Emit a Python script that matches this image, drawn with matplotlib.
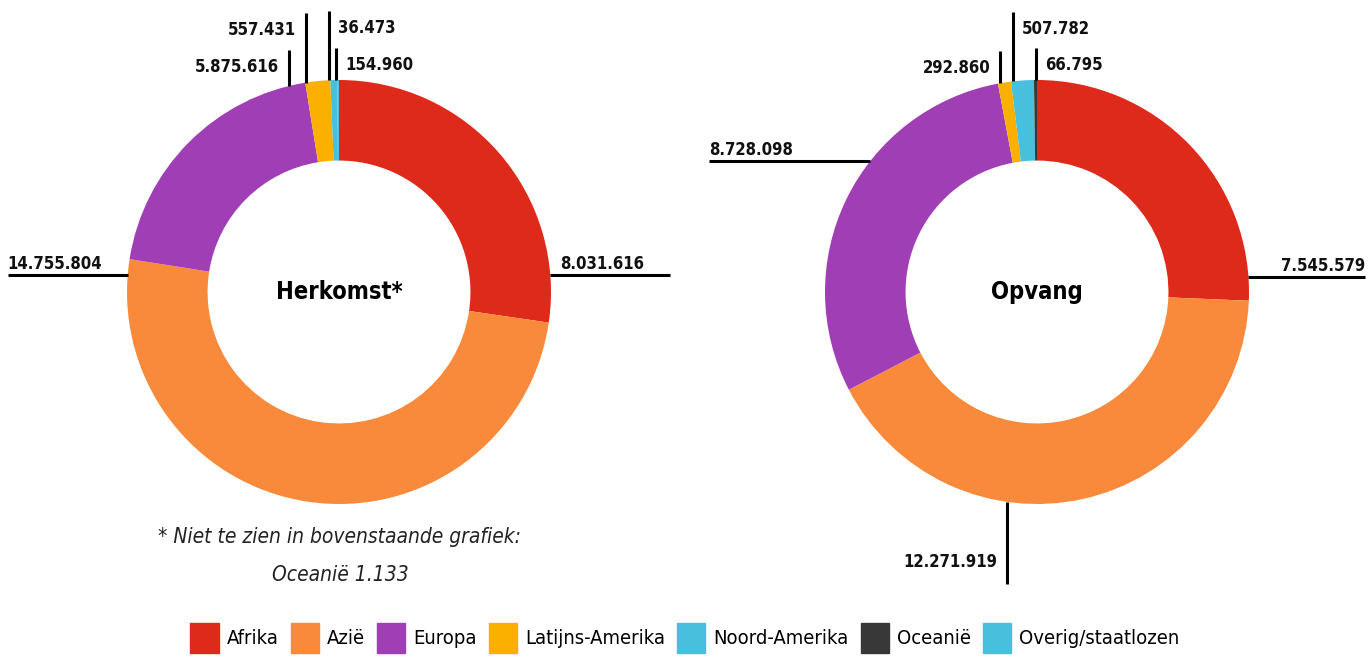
import numpy as np
import matplotlib
matplotlib.use('Agg')
import matplotlib.pyplot as plt
from matplotlib.patches import Rectangle

# Data
regios = ['Afrika', 'Azië', 'Europa', 'Latijns-Amerika', 'Noord-Amerika', 'Oceanië', 'Overig/staatlozen']
kleuren = ['#de2a1b', '#f98a3c', '#a03fb5', '#fbb000', '#47bfdd', '#383838', '#47bfdd']
herkomst = [8031616, 14755804, 5875616, 557431, 154960, 0, 36473]   # Oceanië niet zichtbaar
herkomst_oceanie = 1133
opvang = [7545579, 12271919, 8728098, 292860, 507782, 66795, 0]

# label layout: (region index, angle clockwise from top, direction, line length, text side, text offset)
lab_links = [(3, -9.0, 'up', 70, 'l', 0), (2, -13.6, 'up', 36, 'l', 0), (6, -2.7, 'up', 69, 'r', 0),
             (4, -0.8, 'up', 32, 'r', 0), (1, -85.4, 'left', 120, 'r', 0), (0, 85.4, 'right', 120, 'l', -26)]
lab_rechts = [(3, -10.0, 'up', 32, 'l', 0), (4, -6.5, 'up', 69, 'r', 0), (5, -0.3, 'up', 32, 'r', 0),
              (2, -52.0, 'left', 161, 'r', 0), (0, 86.0, 'right', 117, 'l', 0), (1, 188.1, 'down', 82, 'l', 0)]

W, H = 1370, 659
fig = plt.figure(figsize=(13.7, 6.59), dpi=100)
ax = fig.add_axes([0, 0, 1, 1])

fam = 'DejaVu Sans'
R = 212
cy = H - 292


def fmt(v):
    return f'{v:,}'.replace(',', '.')


def donut(waarden, cx, titel, labels):
    ax.pie(waarden, colors=kleuren, startangle=90, counterclock=False,
           center=(cx, cy), radius=R, frame=True,
           wedgeprops=dict(width=R * 0.38, linewidth=0))
    ax.text(cx, cy, titel, ha='center', va='center', fontsize=17, fontweight='bold',
            family=fam, fontstretch='condensed')
    for i, ang, d, ln, side, off in labels:
        t = np.deg2rad(ang)
        x0 = cx + R * np.sin(t)
        y0 = cy + R * np.cos(t)
        tekst = fmt(waarden[i])
        kw = dict(fontsize=12, fontweight='bold', family=fam, fontstretch='condensed', color='#111111')
        if d == 'up':
            x1, y1 = x0, y0 + ln
            if side == 'l':
                ax.text(x1 - 10, y1 - 17, tekst, ha='right', va='center', **kw)
            else:
                ax.text(x1 + 9, y1 - 17, tekst, ha='left', va='center', **kw)
        elif d == 'down':
            x1, y1 = x0, y0 - ln
            ax.text(x1 - 10, y1 + 22, tekst, ha='right', va='center', **kw)
        elif d == 'left':
            x1, y1 = x0 - ln, y0
            ax.text(x1, y1 + 6, tekst, ha='left', va='baseline', **kw)
        else:
            x1, y1 = x0 + ln, y0
            ax.text(x1 + off, y1 + 6, tekst, ha='right', va='baseline', **kw)
        ax.plot([x0, x1], [y0, y1], color='black', lw=2.2, solid_capstyle='butt')


donut(herkomst, 339, 'Herkomst*', lab_links)
donut(opvang, 1037, 'Opvang', lab_rechts)

ax.set_xlim(0, W)
ax.set_ylim(0, H)
ax.set_aspect('auto')
ax.axis('off')

ax.text(340, H - 537, '* Niet te zien in bovenstaande grafiek:', ha='center', va='center',
        fontsize=15, style='italic', family=fam, fontstretch='condensed', color='#222222')
ax.text(340, H - 575, 'Oceanië ' + fmt(herkomst_oceanie), ha='center', va='center',
        fontsize=15, style='italic', family=fam, fontstretch='condensed', color='#222222')

handles = [Rectangle((0, 0), 1, 1, color=c) for c in kleuren]
fig.legend(handles, regios, loc='lower center', ncol=7, frameon=False,
           bbox_to_anchor=(0.5, -0.018), handlelength=1.4, handleheight=1.9,
           handletextpad=0.4, columnspacing=0.6,
           prop=dict(family=fam, stretch='condensed', size=14.5))

fig.savefig('out.png', dpi=100)
